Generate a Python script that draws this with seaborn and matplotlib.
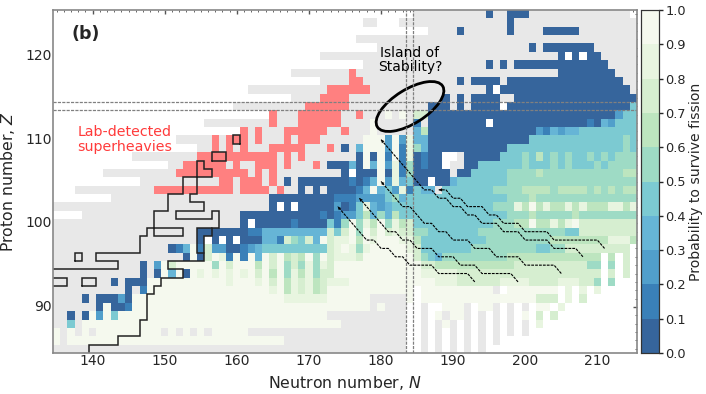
import numpy as np
import pandas as pd
import seaborn as sns
import matplotlib
matplotlib.use('Agg')
import matplotlib.pyplot as plt
from matplotlib.colors import ListedColormap
from matplotlib.patches import Ellipse

g, r, w = 'g', 'r', 'w'

# (first N, last N, code) runs per proton number, later runs paint over earlier ones
# code: g = grey, r = lab detected, w = empty, 0-9 = survival probability bin
rows = {
    125: [(185,214,g),(195,195,0),(198,200,0)],
    124: [(178,179,g),(183,215,g),(198,198,0)],
    123: [(187,215,g),(191,191,0),(198,198,0),(203,207,0)],
    122: [(177,215,g)],
    121: [(180,215,g),(201,201,0),(203,209,0)],
    120: [(172,215,g),(205,205,0),(206,206,w),(207,207,0),(208,208,w),(209,210,0)],
    119: [(178,215,g),(195,195,0),(197,197,0),(199,211,0)],
    118: [(168,215,g),(176,176,r),(205,212,0)],
    117: [(172,215,g),(176,177,r),(191,191,0),(193,196,0),(198,213,0)],
    116: [(162,215,g),(173,178,r),(195,195,0),(196,196,w),(197,214,0)],
    115: [(168,215,g),(172,175,r),(189,189,0),(191,191,0),(193,196,0),(199,215,0)],
    114: [(160,215,g),(170,175,r),(187,189,0),(191,191,0),(193,196,0),(197,197,w),(198,214,0),(215,215,4)],
    113: [(166,186,g),(165,165,r),(169,174,r),(177,177,r),(181,181,9),(183,183,9),(185,186,7),(187,212,0),(213,213,2),(214,215,4)],
    112: [(156,186,g),(165,165,r),(169,174,r),(179,179,9),(185,185,1),(187,194,0),(195,195,w),(196,208,0),(209,209,1),(210,210,0),(211,211,3),(212,212,2),(213,215,4)],
    111: [(162,186,g),(161,161,r),(163,163,r),(167,172,r),(175,175,r),(179,179,9),(185,185,3),(186,186,6),(187,201,0),(202,202,2),(203,203,1),(204,204,3),(205,205,2),(206,207,3),(208,215,4)],
    110: [(152,186,g),(157,157,r),(159,161,r),(163,163,r),(167,167,r),(169,171,r),(178,180,9),(181,181,2),(182,182,9),(183,183,2),(184,184,8),(185,186,3),(187,200,0),(201,215,4),(214,214,5)],
    109: [(155,186,g),(157,157,r),(159,159,r),(161,161,r),(165,169,r),(173,173,r),(175,175,0),(177,177,3),(178,180,9),(181,181,2),(182,182,9),(183,183,1),(184,184,8),(185,185,5),(186,186,3),(187,197,0),(198,215,4),(214,214,5)],
    108: [(146,176,g),(155,165,r),(167,167,r),(169,169,r),(177,177,0),(178,178,9),(179,179,0),(180,180,9),(181,181,1),(182,182,9),(183,183,1),(184,184,8),(185,185,0),(186,186,1),(187,188,0),(189,190,w),(191,191,g),(192,196,0),(197,215,4),(200,200,5),(202,202,6),(204,204,5),(206,206,5),(209,209,5),(211,211,5),(213,215,5)],
    107: [(151,172,g),(153,158,r),(160,160,r),(163,165,r),(167,167,r),(171,171,r),(173,175,0),(176,176,3),(177,177,0),(178,178,9),(179,179,3),(180,180,9),(181,181,2),(182,182,8),(183,183,1),(184,184,5),(185,185,0),(186,186,1),(187,188,0),(189,189,w),(190,191,g),(192,193,0),(194,215,4),(200,200,5),(204,204,5),(206,206,5),(210,210,5),(212,215,5)],
    106: [(142,176,g),(152,161,r),(163,163,r),(165,165,r),(175,175,0),(176,176,w),(177,179,0),(180,180,9),(181,181,0),(182,182,8),(183,183,1),(184,184,5),(185,189,0),(190,190,g),(191,192,0),(193,197,4),(198,215,5),(202,202,6),(214,215,6)],
    105: [(147,168,g),(158,159,r),(161,163,r),(165,165,r),(167,167,0),(169,175,0),(176,176,1),(177,177,0),(178,178,1),(179,179,3),(180,180,9),(181,181,2),(182,182,8),(183,183,3),(184,184,4),(185,186,0),(187,187,w),(188,189,0),(190,190,3),(191,197,4),(198,215,5)],
    104: [(138,168,g),(149,159,r),(161,164,r),(166,166,r),(169,176,0),(170,170,g),(172,172,g),(177,177,1),(178,178,3),(179,179,9),(180,180,3),(181,181,4),(182,182,2),(183,183,8),(184,184,1),(185,185,4),(186,187,3),(188,188,g),(189,195,4),(196,199,5),(200,203,6),(204,204,5),(205,208,6),(209,209,5),(210,210,6),(211,211,5),(212,212,6),(213,213,5),(214,215,6)],
    103: [(143,164,g),(165,173,0),(174,176,1),(177,180,2),(181,181,4),(182,182,5),(183,183,3),(184,197,4),(198,215,5),(201,201,6)],
    102: [(135,164,g),(165,165,0),(167,167,0),(169,173,0),(174,174,2),(175,175,0),(176,176,1),(177,177,4),(178,178,8),(179,179,3),(180,180,2),(181,181,3),(182,195,4),(196,198,5),(199,199,8),(200,200,6),(201,201,9),(202,202,6),(203,203,8),(204,205,6),(206,206,8),(207,207,6),(208,208,8),(209,211,6),(212,213,8),(214,214,6),(215,215,8)],
    101: [(139,160,g),(161,171,0),(172,172,1),(173,173,0),(174,174,1),(175,176,2),(177,177,4),(178,178,6),(179,179,3),(180,180,5),(181,181,3),(182,182,6),(183,183,4),(184,197,4),(198,215,5),(201,201,6),(207,207,6)],
    100: [(135,160,g),(161,161,0),(162,162,w),(163,167,0),(168,168,1),(169,172,0),(173,173,4),(174,174,1),(175,175,5),(176,176,9),(177,177,5),(178,178,8),(179,179,6),(180,180,9),(181,181,5),(182,182,8),(183,183,6),(184,184,7),(185,195,4),(196,199,5),(199,200,6),(201,201,9),(202,203,6),(204,204,8),(205,205,6),(206,206,8),(207,207,9),(208,215,7)],
    99: [(135,154,g),(155,161,0),(162,163,1),(164,171,3),(172,172,3),(173,173,7),(174,174,4),(175,175,7),(176,176,9),(177,177,5),(178,178,9),(179,179,7),(180,180,9),(181,181,7),(182,182,8),(183,183,7),(184,184,7),(185,186,5),(187,193,4),(194,205,5),(206,207,4),(208,215,7)],
    98: [(135,154,g),(155,155,0),(156,156,w),(157,157,0),(158,158,w),(159,159,0),(160,160,w),(161,163,0),(164,165,3),(166,166,1),(167,167,7),(168,168,5),(169,169,4),(170,170,7),(171,171,3),(172,172,9),(173,173,7),(174,174,8),(175,175,8),(176,176,9),(177,177,6),(178,178,9),(179,179,8),(180,182,9),(183,184,8),(185,185,6),(186,194,4),(195,203,5),(204,215,6),(212,214,8)],
    97: [(135,150,g),(151,151,0),(152,152,1),(153,153,3),(154,154,9),(155,155,1),(156,156,7),(157,158,2),(159,160,0),(161,161,1),(162,162,2),(163,163,3),(164,172,4),(173,173,7),(174,174,8),(175,175,9),(176,176,8),(177,177,5),(178,178,8),(179,183,9),(184,184,8),(185,185,7),(186,192,4),(193,201,5),(202,203,4),(204,205,5),(206,215,7),(215,215,w)],
    96: [(135,152,g),(153,153,0),(154,154,9),(155,155,0),(156,156,7),(157,157,9),(158,158,8),(159,159,1),(160,160,9),(161,161,1),(162,162,9),(163,163,3),(164,164,9),(165,165,7),(166,166,9),(167,167,6),(168,168,7),(169,169,6),(170,170,9),(171,171,5),(172,172,9),(173,173,7),(174,174,8),(175,176,8),(177,177,7),(178,184,9),(185,185,7),(186,186,5),(187,187,4),(188,188,3),(189,197,5),(198,210,6),(211,211,w),(212,212,6),(213,213,w),(214,214,7)],
    95: [(135,150,g),(147,147,0),(149,149,2),(150,150,9),(151,151,7),(152,156,9),(157,157,5),(158,158,9),(159,159,7),(160,162,9),(163,163,6),(164,164,9),(165,165,7),(166,166,9),(167,167,5),(168,168,7),(169,169,5),(170,170,8),(171,171,5),(172,172,8),(173,173,7),(174,174,9),(175,185,9),(186,187,7),(188,198,6),(199,208,7),(209,211,5),(212,212,5),(211,211,w),(213,213,w),(214,214,7)],
    94: [(135,148,g),(147,147,0),(149,149,0),(150,150,9),(151,151,3),(152,152,9),(153,153,0),(154,154,9),(155,155,8),(156,156,9),(157,157,8),(158,158,9),(159,159,8),(160,160,9),(161,161,8),(162,162,9),(163,163,7),(164,164,9),(165,165,6),(166,166,9),(167,167,5),(168,168,8),(169,169,6),(170,170,8),(171,171,5),(172,172,7),(173,173,7),(174,185,9),(186,190,8),(191,200,7),(201,210,7),(211,211,w),(213,213,w),(212,212,7),(214,214,7)],
    93: [(135,142,g),(143,143,0),(144,144,g),(145,147,0),(148,158,9),(159,159,8),(160,162,9),(163,163,8),(164,164,9),(165,165,7),(166,166,9),(167,167,6),(168,168,8),(169,169,7),(170,170,8),(171,171,6),(172,172,7),(173,175,8),(176,187,9),(188,190,8),(191,196,7),(197,200,8),(201,204,7),(205,207,8),(208,208,7),(209,209,7),(210,210,5),(211,211,w),(212,212,5),(213,215,w)],
    92: [(135,144,g),(145,145,0),(146,146,g),(147,147,1),(148,164,9),(165,165,8),(166,166,9),(167,167,6),(168,168,8),(169,169,7),(170,170,8),(171,171,6),(172,172,7),(173,184,9),(185,185,w),(186,195,9),(196,196,g),(197,197,w),(198,204,9),(205,205,w),(206,206,8),(207,207,w),(208,208,8),(209,209,w),(210,210,8)],
    91: [(135,138,g),(139,139,0),(140,140,g),(141,143,0),(144,144,2),(145,145,0),(146,166,9),(167,172,8),(173,178,9),(179,183,g),(184,184,9),(185,185,w),(186,201,9),(202,204,7),(206,206,8),(208,208,7)],
    90: [(135,140,g),(141,141,0),(142,142,9),(143,144,0),(145,145,1),(146,178,9),(179,183,g),(180,180,9),(186,186,g),(189,191,9),(192,192,g),(194,195,9),(196,196,g),(198,198,g),(200,200,g),(202,203,9),(205,205,8)],
    89: [(135,136,g),(137,137,0),(138,138,g),(139,139,0),(140,140,9),(141,141,2),(142,142,9),(143,143,4),(144,172,9),(173,183,g),(186,186,g),(188,188,9),(189,189,g),(190,191,9),(192,192,g),(194,194,g),(196,196,g),(198,198,g),(200,200,9),(202,202,7),(204,204,7)],
    88: [(135,136,g),(137,137,4),(138,138,g),(139,174,9),(175,183,g),(186,186,g),(188,188,g),(189,189,9),(190,190,g),(192,192,g),(194,194,g),(196,196,g),(198,198,g),(200,200,g),(202,202,8)],
    87: [(135,135,9),(136,136,g),(137,137,9),(138,138,g),(139,139,9),(140,140,g),(141,161,9),(150,150,g),(152,152,g),(154,154,g),(156,156,g),(162,183,g),(186,186,g),(188,188,g),(190,190,g),(192,192,g),(194,194,g),(196,196,g),(198,198,g),(200,200,g)],
    86: [(135,135,9),(136,136,g),(137,166,9),(167,183,g),(186,186,g),(188,188,g),(190,190,g),(192,192,g),(194,194,g),(196,196,g)],
    85: [(135,183,g),(186,186,g),(188,188,g),(190,190,g),(192,192,g),(194,194,g)],
}

# drip lines and small closed outlines, (N, Z) at cell corners
outline_lower = [(139.5,84.5),(139.5,85.5),(143.5,85.5),(143.5,86.5),(146.5,86.5),(146.5,88.5),(147.5,88.5),(147.5,91.5),(148.5,91.5),(148.5,92.5),(149.5,92.5),(149.5,93.5),(152.5,93.5),(152.5,94.5),(150.5,94.5),(150.5,95.5),(155.5,95.5),(155.5,98.5),(156.5,98.5),(156.5,99.5),(157.5,99.5),(157.5,101.5),(156.5,101.5),(156.5,100.5),(151.5,100.5),(151.5,101.5),(155.5,101.5),(155.5,102.5),(153.5,102.5),(153.5,103.5),(154.5,103.5),(154.5,107.5),(155.5,107.5),(155.5,106.5),(156.5,106.5),(156.5,105.5),(152.5,105.5),(152.5,103.5),(150.5,103.5),(150.5,101.5),(148.5,101.5),(148.5,98.5),(152.5,98.5),(152.5,99.5),(147.5,99.5),(147.5,98.5),(146.5,98.5),(146.5,96.5),(140.5,96.5),(140.5,95.5),(143.5,95.5),(143.5,94.5),(134.5,94.5)]
outline_branch = [(155.5,96.5),(154.5,96.5),(154.5,99.5),(156.5,99.5)]
outline_box1 = [(134.5,92.5),(136.5,92.5),(136.5,93.5),(134.5,93.5)]
outline_box2 = [(138.5,92.5),(140.5,92.5),(140.5,93.5),(138.5,93.5),(138.5,92.5)]
outline_box3 = [(137.5,95.5),(138.5,95.5),(138.5,96.5),(137.5,96.5),(137.5,95.5)]
outline_box4 = [(156.5,107.5),(158.5,107.5),(158.5,108.5),(156.5,108.5),(156.5,107.5)]
outline_box5 = [(160.5,109.5),(159.5,109.5),(159.5,110.5),(160.5,110.5),(160.5,109.5)]

# alpha decay chains, (N, Z), listed from parent to daughter
chain_a = [(211,97),(210,98),(204,98),(203,99),(200,99),(199,100),(197,100),(196,101),(195,101),(194,102),(192,102),(191,103),(190,103),(189,104),(188,104)]
chain_b = [(208,96),(207,97),(204,97),(203,98),(200,98),(199,99),(197,99),(196,100),(194,100),(193,101),(192,101),(191,102),(190,102),(189,103),(188,103),(187,104),(186,104),(185,105),(180,110)]
chain_c = [(205,94),(204,95),(200,95),(199,96),(196,96),(195,97),(193,97),(192,98),(190,98),(189,99),(188,99),(187,100),(186,100),(185,101),(184,102),(183,102),(180,105)]
chain_d = [(199,93),(198,94),(194,94),(193,95),(191,95),(190,96),(188,96),(187,97),(185,97),(184,98),(183,98),(182,99),(181,99),(180,100),(177,103)]
chain_e = [(193,93),(192,94),(188,94),(187,95),(184,95),(183,96),(182,96),(181,97),(180,97),(179,98),(178,98),(174,102)]

bin_colors = ['#36659c','#3a80b8','#519fcb','#66b5d6','#7ccad2','#9edbc5','#bde5bf','#d6eed0','#e8f5e0','#f5f9ee']
grey_color = '#e8e8e8'
red_color = '#ff8080'
n_values = np.arange(135, 216)
z_values = np.arange(125, 84, -1)

sns.set_style('white')

# fill the three layers from the runs
prob = pd.DataFrame(np.nan, index=z_values, columns=n_values)
grey = prob.copy()
red = prob.copy()
for z, runs in rows.items():
    for start, end, code in runs:
        cols = list(range(start, end + 1))
        prob.loc[z, cols] = np.nan
        grey.loc[z, cols] = np.nan
        red.loc[z, cols] = np.nan
        if code == g:
            grey.loc[z, cols] = 1
        elif code == r:
            red.loc[z, cols] = 1
        elif code != w:
            prob.loc[z, cols] = (code + 0.5) / 10

fig = plt.figure(figsize=(7.06, 3.94), dpi=100)
ax = fig.add_axes([53/706, 1-353/394, 584/706, 343/394])
cax = fig.add_axes([641/706, 1-353/394, 17.5/706, 343/394])

sns.heatmap(grey, ax=ax, cmap=ListedColormap([grey_color]), cbar=False)
sns.heatmap(red, ax=ax, cmap=ListedColormap([red_color]), cbar=False)
sns.heatmap(prob, ax=ax, cmap=ListedColormap(bin_colors), vmin=0, vmax=1, cbar_ax=cax)

def px(n):
    return np.asarray(n, dtype=float) - 134.5

def py(z):
    return 125.5 - np.asarray(z, dtype=float)

# magic number guide lines
for n in (183.5, 184.5):
    ax.axvline(px(n), color='#808080', lw=0.9, ls=(0, (2.5, 1)))
for z in (113.5, 114.5):
    ax.axhline(py(z), color='#808080', lw=0.9, ls=(0, (2.5, 1)))

outlines = [outline_lower, outline_branch, outline_box1, outline_box2, outline_box3, outline_box4, outline_box5]
for line in outlines:
    pts = np.array(line)
    ax.plot(px(pts[:, 0]), py(pts[:, 1]), color='#222222', lw=1.1, solid_joinstyle='miter')

chains = [chain_a, chain_b, chain_c, chain_d, chain_e]
for chain in chains:
    pts = np.array(chain)
    ax.plot(px(pts[:, 0]), py(pts[:, 1]), color='black', lw=0.8, ls=(0, (2.5, 1)))
    ax.annotate('', xy=(px(pts[-1, 0]), py(pts[-1, 1])), xytext=(px(pts[-2, 0]), py(pts[-2, 1])),
                arrowprops=dict(arrowstyle='-|>', color='black', lw=0, mutation_scale=6, shrinkA=0, shrinkB=0))

# island of stability ellipse, placed in figure inches
ax.add_patch(Ellipse((4.10, (394-106.5)/100), 0.77, 0.34, angle=32, fill=False,
                     edgecolor='black', lw=2, transform=fig.dpi_scale_trans, clip_on=False))

ax.text(px(139.0), py(122.6), '(b)', fontsize=12.5, fontweight='bold', va='center', ha='center')
ax.text(px(144.5), py(110.0), 'Lab-detected\nsuperheavies', fontsize=10.2, color='#ff3b3b',
        ha='center', va='center', linespacing=1.05)
ax.text(px(184.0), py(119.5), 'Island of\nStability?', fontsize=10, color='black',
        ha='center', va='center', linespacing=1.05)

ax.set_xticks(px(np.arange(140, 211, 10)))
ax.set_xticklabels(np.arange(140, 211, 10), rotation=0)
ax.set_yticks(py(np.arange(90, 121, 10)))
ax.set_yticklabels(np.arange(90, 121, 10), rotation=0)
ax.set_xticks(px(np.arange(135, 216, 1)), minor=True)
ax.set_yticks(py(np.arange(85, 126, 1)), minor=True)
ax.tick_params(which='major', direction='in', length=3, width=1, top=True, right=True, labelsize=10, color='#555555', pad=1)
ax.tick_params(which='minor', direction='in', length=1.5, width=0.7, top=True, right=True, color='#666666')
ax.set_xlabel('Neutron number, $N$', fontsize=11.3)
ax.set_ylabel('Proton number, $Z$', fontsize=11.3)
ax.xaxis.set_label_coords(0.499, -0.06)
ax.yaxis.set_label_coords(-0.0616, 0.5)
for spine in ax.spines.values():
    spine.set_visible(True)
    spine.set_color('#888888')
    spine.set_linewidth(1.2)

cax.set_yticks(np.arange(0, 1.01, 0.1))
cax.set_yticklabels(['%.1f' % v for v in np.arange(0, 1.01, 0.1)])
cax.tick_params(direction='out', length=3, width=1, labelsize=9.3, right=True, pad=2)
cax.set_ylabel('Probability to survive fission', fontsize=10.1)
cax.yaxis.set_label_coords(2.74, 0.5)
for spine in cax.spines.values():
    spine.set_visible(True)
    spine.set_color('#333333')
    spine.set_linewidth(0.8)

fig.savefig('out.png', dpi=100)
